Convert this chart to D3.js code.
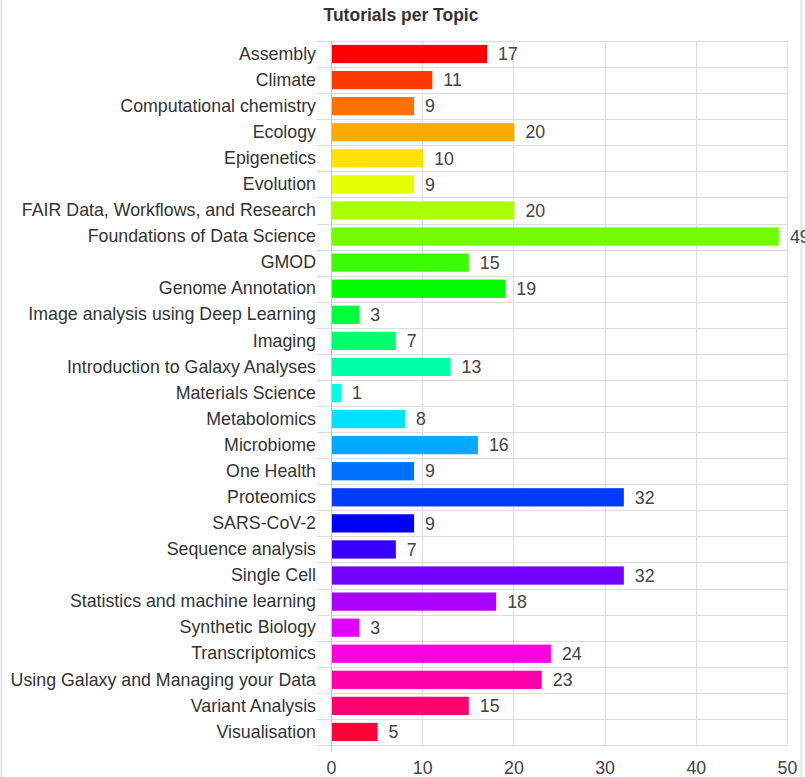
<!DOCTYPE html>
<html>
<head>
<meta charset="utf-8">
<script src="https://cdn.jsdelivr.net/npm/d3@7"></script>
<style>
  body { margin: 0; background: #fff; }
  text { font-family: "Liberation Sans", Arial, sans-serif; }
</style>
</head>
<body>
<div id="chart"></div>
<script>
// topics and tutorial counts
const topics = [
  "Assembly", "Climate", "Computational chemistry", "Ecology", "Epigenetics",
  "Evolution", "FAIR Data, Workflows, and Research", "Foundations of Data Science",
  "GMOD", "Genome Annotation", "Image analysis using Deep Learning", "Imaging",
  "Introduction to Galaxy Analyses", "Materials Science", "Metabolomics",
  "Microbiome", "One Health", "Proteomics", "SARS-CoV-2", "Sequence analysis",
  "Single Cell", "Statistics and machine learning", "Synthetic Biology",
  "Transcriptomics", "Using Galaxy and Managing your Data", "Variant Analysis",
  "Visualisation"
];
const counts = [17, 11, 9, 20, 10, 9, 20, 49, 15, 19, 3, 7, 13, 1, 8, 16, 9, 32, 9, 7, 32, 18, 3, 24, 23, 15, 5];
const xTicks = [0, 10, 20, 30, 40, 50];
const chartTitle = "Tutorials per Topic";

const width = 805, height = 777;
const margin = {top: 41, right: 18, bottom: 32, left: 331};
const plotW = width - margin.left - margin.right,
      plotH = height - margin.top - margin.bottom;
const fontSize = 17.8;

const svg = d3.select("#chart")
  .append("svg")
  .attr("width", width)
  .attr("height", height);

// frame lines at the sides
svg.append("line").attr("x1", 1.5).attr("x2", 1.5).attr("y1", 0).attr("y2", height)
  .attr("stroke", "#e3e3e3").attr("stroke-width", 2);
svg.append("line").attr("x1", 801.5).attr("x2", 801.5).attr("y1", 0).attr("y2", height)
  .attr("stroke", "#e3e3e3").attr("stroke-width", 2);

svg.append("text")
  .attr("x", 401)
  .attr("y", 21)
  .attr("text-anchor", "middle")
  .attr("font-size", 17.5)
  .attr("font-weight", "bold")
  .attr("fill", "#333")
  .text(chartTitle);

const g = svg.append("g").attr("transform", `translate(${margin.left},${margin.top})`);

let x = d3.scaleLinear().domain([0, 50]).range([0, plotW]);
let y = d3.scaleBand().domain(topics).range([0, plotH]).paddingInner(0.3).paddingOuter(0.15);

// hue goes round the colour wheel, one step per topic
const colour = i => d3.hsl(i * 360 / topics.length, 1, 0.5).toString();

// horizontal row separators
g.selectAll(".rowLine")
  .data(d3.range(topics.length + 1))
  .enter().append("line")
  .attr("class", "rowLine")
  .attr("x1", -14).attr("x2", plotW)
  .attr("y1", d => Math.round(d * plotH / topics.length) + 0.5)
  .attr("y2", d => Math.round(d * plotH / topics.length) + 0.5)
  .attr("stroke", "#dcdcdc");

// vertical grid
g.selectAll(".colLine")
  .data(xTicks)
  .enter().append("line")
  .attr("class", "colLine")
  .attr("x1", d => Math.round(x(d)) + 0.5).attr("x2", d => Math.round(x(d)) + 0.5)
  .attr("y1", 0)
  .attr("y2", d => d === 0 ? plotH + 7 : plotH)
  .attr("stroke", d => d === 0 ? "#c8c8c8" : "#dcdcdc");

// bars
g.selectAll(".bar")
  .data(topics)
  .enter().append("rect")
  .attr("class", "bar")
  .attr("x", x(0) + 1)
  .attr("y", d => y(d))
  .attr("width", (d, i) => x(counts[i]) - x(0))
  .attr("height", y.bandwidth())
  .attr("fill", (d, i) => colour(i));

// value labels
g.selectAll(".val")
  .data(topics)
  .enter().append("text")
  .attr("class", "val")
  .attr("x", (d, i) => x(counts[i]) + 12)
  .attr("y", d => y(d) + y.bandwidth() / 2)
  .attr("dy", "0.35em")
  .attr("font-size", fontSize)
  .attr("fill", "#444")
  .text((d, i) => counts[i]);

// category axis
let yAxis = g.append("g")
  .call(d3.axisLeft(y).tickSize(0).tickPadding(15));
yAxis.select(".domain").remove();
yAxis.selectAll("text").attr("font-size", fontSize).attr("fill", "#333")
  .style("font-family", '"Liberation Sans", Arial, sans-serif');

// value axis
let xAxis = g.append("g")
  .attr("transform", `translate(0,${plotH})`)
  .call(d3.axisBottom(x).tickValues(xTicks).tickSize(0).tickPadding(16));
xAxis.select(".domain").remove();
xAxis.selectAll("text").attr("font-size", fontSize).attr("fill", "#444")
  .style("font-family", '"Liberation Sans", Arial, sans-serif');
</script>
</body>
</html>
